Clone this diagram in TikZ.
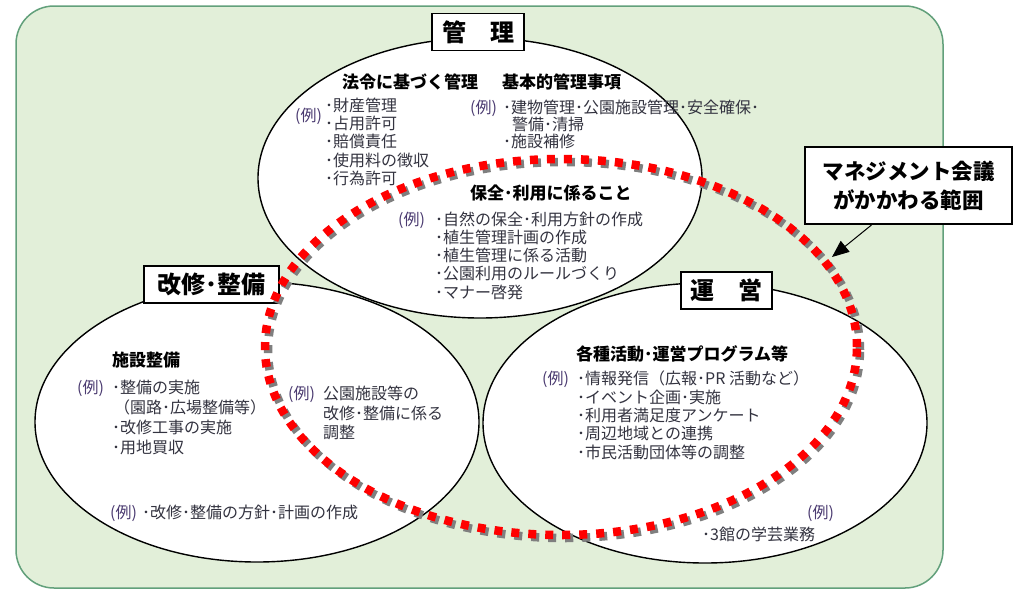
\documentclass[tikz,border=0pt]{standalone}
\usepackage{fontspec}
\setmainfont{Noto Sans CJK JP}
\usetikzlibrary{arrows.meta}
\definecolor{bgfill}{HTML}{E2EFD9}
\definecolor{bgline}{HTML}{62A07B}
\definecolor{bodyc}{HTML}{333340}
\definecolor{reic}{HTML}{4A3A70}
\definecolor{dotred}{HTML}{FF0000}
\definecolor{dotgray}{HTML}{7F7F7F}
\begin{document}
\begin{tikzpicture}[x=1pt,y=-1pt,
  bodytxt/.style={anchor=base west, inner sep=0pt, yshift=-6.1pt, text=bodyc, font=\fontsize{16}{18}\selectfont},
  reitxt/.style={bodytxt, text=reic},
  headtxt/.style={anchor=base west, inner sep=0pt, yshift=-6.5pt, text=black, font=\fontsize{17}{20}\selectfont\bfseries},
  lblbox/.style={draw=black, line width=1.3pt, fill=white, inner sep=0pt, minimum height=37pt, font=\fontsize{24}{28}\selectfont\bfseries},
  oval/.style={line width=1.4pt},
  redring/.style={line width=8.5pt, dash pattern=on 8pt off 9pt}
]
\useasboundingbox (0,0) rectangle (1020,590);
% background panel
\draw[fill=bgfill, draw=bgline, line width=1.5pt, rounded corners=38pt] (16,6) rectangle (943,588);
% ellipse fills
\fill[white] (480,178) ellipse [x radius=222pt, y radius=140pt];
\fill[white] (257,422) ellipse [x radius=222pt, y radius=140pt];
\fill[white] (705,423) ellipse [x radius=222pt, y radius=140pt];
% ellipse outlines
\draw[oval] (480,178) ellipse [x radius=222pt, y radius=140pt];
\draw[oval] (257,422) ellipse [x radius=222pt, y radius=140pt];
\draw[oval] (705,423) ellipse [x radius=222pt, y radius=140pt];

% ---- 管理 ellipse texts
\node[headtxt] (h1) at (342,82) {法令に基づく管理};
\node[headtxt] (h2) at (502,82) {基本的管理事項};
\node[reitxt] (r1) at (295,115) {(例)};
\node[bodytxt] (a1) at (325,105) {･財産管理};
\node[bodytxt] (a2) at (325,123) {･占用許可};
\node[bodytxt] (a3) at (325,141.5) {･賠償責任};
\node[bodytxt] (a4) at (325,160) {･使用料の徴収};
\node[bodytxt] (a5) at (325,178) {･行為許可};
\node[reitxt] (r2) at (470,107) {(例)};
\node[bodytxt] (b1) at (503,107) {･建物管理･公園施設管理･安全確保･};
\node[bodytxt] (b2) at (512,124) {警備･清掃};
\node[bodytxt] (b3) at (503,141) {･施設補修};
\node[headtxt] (h3) at (470,193) {保全･利用に係ること};
\node[reitxt] (r3) at (398,219) {(例)};
\node[bodytxt] (c1) at (435,219) {･自然の保全･利用方針の作成};
\node[bodytxt] (c2) at (435,237) {･植生管理計画の作成};
\node[bodytxt] (c3) at (435,255) {･植生管理に係る活動};
\node[bodytxt] (c4) at (435,273) {･公園利用のルールづくり};
\node[bodytxt] (c5) at (435,292) {･マナー啓発};

% ---- 改修・整備 ellipse texts
\node[headtxt] (h4) at (112,360) {施設整備};
\node[reitxt] (r4) at (77,387) {(例)};
\node[bodytxt] (d1) at (112,387) {･整備の実施};
\node[bodytxt] (d2) at (114,407) {（園路･広場整備等）};
\node[bodytxt] (d3) at (112,427) {･改修工事の実施};
\node[bodytxt] (d4) at (112,447) {･用地買収};
\node[reitxt] (r5) at (288,393) {(例)};
\node[bodytxt] (e1) at (323,393) {公園施設等の};
\node[bodytxt] (e2) at (323,413) {改修･整備に係る};
\node[bodytxt] (e3) at (323,432) {調整};
\node[reitxt] (r6) at (110,512) {(例)};
\node[bodytxt] (f1) at (142,512) {･改修･整備の方針･計画の作成};

% ---- 運営 ellipse texts
\node[headtxt] (h5) at (576,354) {各種活動･運営プログラム等};
\node[reitxt] (r7) at (542,378) {(例)};
\node[bodytxt] (g1) at (577,378) {･情報発信（広報･PR 活動など）};
\node[bodytxt] (g2) at (577,397) {･イベント企画･実施};
\node[bodytxt] (g3) at (577,415) {･利用者満足度アンケート};
\node[bodytxt] (g4) at (577,433) {･周辺地域との連携};
\node[bodytxt] (g5) at (577,452) {･市民活動団体等の調整};
\node[reitxt] (r8) at (807,512) {(例)};
\node[bodytxt] (k1) at (702,534) {･3館の学芸業務};

% ---- label boxes
\node[lblbox, minimum width=92pt] (kanri) at (478,32) {管\hspace{1em}理};
\node[lblbox, minimum width=135pt] (kaishu) at (211.5,284.5) {改修･整備};
\node[lblbox, minimum width=91pt] (unei) at (726.5,290.5) {運\hspace{1em}営};

% ---- management meeting range (dotted ring with shadow)
\draw[redring, dotgray, shift={(3,3)}] (561,347) ellipse [x radius=296pt, y radius=188pt];
\draw[redring, dotred] (561,347) ellipse [x radius=296pt, y radius=188pt];

% ---- callout
\node[draw=black, line width=2pt, fill=white, minimum width=207pt, minimum height=77pt, inner sep=0pt, align=center, font=\fontsize{21.5}{29}\selectfont\bfseries] (mc) at (908.5,185.5) {マネジメント会議\\がかかわる範囲};
\coordinate (atip) at (832,257);
\draw[line width=1pt, -{Triangle[length=17pt,width=14pt]}] ([xshift=-37pt]mc.south) -- (atip);
\end{tikzpicture}
\end{document}
